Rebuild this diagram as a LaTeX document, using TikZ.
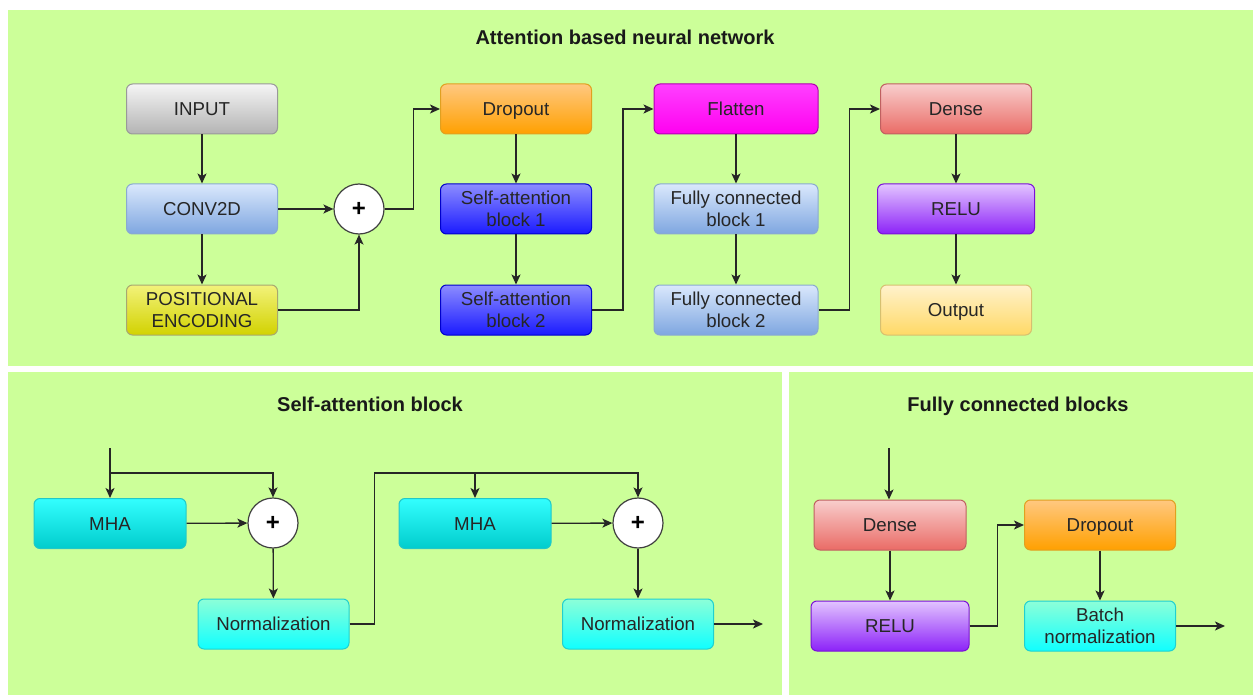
\documentclass[tikz,border=0pt]{standalone}
\usepackage{fontspec}
\setmainfont{Liberation Sans}
\usetikzlibrary{arrows.meta}

% panel and box colours
\definecolor{panelgreen}{HTML}{CCFF99}
\definecolor{inputtop}{HTML}{F5F5F5}\definecolor{inputbot}{HTML}{B3B3B3}\definecolor{inputline}{HTML}{999999}
\definecolor{convtop}{HTML}{DAE8FC}\definecolor{convbot}{HTML}{7EA6E0}\definecolor{convline}{HTML}{8AAAD0}
\definecolor{postop}{HTML}{F2F27A}\definecolor{posbot}{HTML}{D2D200}\definecolor{posline}{HTML}{A8A870}
\definecolor{droptop}{HTML}{FFC880}\definecolor{dropbot}{HTML}{FFA000}\definecolor{dropline}{HTML}{E0A020}
\definecolor{satop}{HTML}{8C8CFF}\definecolor{sabot}{HTML}{1A1AFF}\definecolor{saline}{HTML}{0000CC}
\definecolor{flattop}{HTML}{FF40FF}\definecolor{flatbot}{HTML}{FF00F0}\definecolor{flatline}{HTML}{B000B0}
\definecolor{densetop}{HTML}{F8CECC}\definecolor{densebot}{HTML}{EA6B66}\definecolor{denseline}{HTML}{C06060}
\definecolor{relutop}{HTML}{E2C4FF}\definecolor{relubot}{HTML}{8C22F8}\definecolor{reluline}{HTML}{7A10D8}
\definecolor{outtop}{HTML}{FFF2CC}\definecolor{outbot}{HTML}{FFD966}\definecolor{outline}{HTML}{D6C070}
\definecolor{mhatop}{HTML}{33FFFF}\definecolor{mhabot}{HTML}{00CCCC}\definecolor{mhaline}{HTML}{20C8C8}
\definecolor{normtop}{HTML}{8CFFD8}\definecolor{normbot}{HTML}{10FFFF}\definecolor{normline}{HTML}{20D0D0}

% two-line box label
\newcommand{\twoline}[2]{\raisebox{-2pt}[\height][\depth]{\begin{tabular}{@{}c@{}}#1\\#2\end{tabular}}}

\tikzset{
  box/.style={rounded corners=6pt, minimum width=151pt, minimum height=50pt, align=center,
    inner sep=2pt, line width=1pt, text=black!85, font=\fontsize{18.7}{22}\selectfont,
    execute at begin node=\rule{0pt}{18pt},
    execute at end node=\rule[-4.6pt]{0pt}{4.6pt}},
  inputbox/.style={box, draw=inputline, top color=inputtop, bottom color=inputbot},
  convbox/.style={box, draw=convline, top color=convtop, bottom color=convbot},
  posbox/.style={box, draw=posline, top color=postop, bottom color=posbot},
  dropbox/.style={box, draw=dropline, top color=droptop, bottom color=dropbot},
  sabox/.style={box, draw=saline, top color=satop, bottom color=sabot},
  flatbox/.style={box, draw=flatline, top color=flattop, bottom color=flatbot, minimum width=164pt},
  fcbox/.style={box, draw=convline, top color=convtop, bottom color=convbot, minimum width=164pt},
  densebox/.style={box, draw=denseline, top color=densetop, bottom color=densebot},
  relubox/.style={box, draw=reluline, top color=relutop, bottom color=relubot, minimum width=157pt},
  outbox/.style={box, draw=outline, top color=outtop, bottom color=outbot},
  mhabox/.style={box, draw=mhaline, top color=mhatop, bottom color=mhabot, minimum width=152pt},
  normbox/.style={box, draw=normline, top color=normtop, bottom color=normbot},
  sum/.style={circle, draw=black!75, fill=white, minimum size=50pt, inner sep=0pt, line width=1.2pt,
    font=\fontsize{24}{24}\selectfont\bfseries},
  arr/.style={-{Stealth[length=10pt,width=9pt,inset=2.5pt]}, line width=1.3pt, draw=black!85},
  panel/.style={fill=panelgreen, draw=none},
  heading/.style={font=\fontsize{20}{24}\selectfont\bfseries, text=black!90,
    text height=14.6pt, text depth=0pt},
}

\begin{document}
\begin{tikzpicture}[x=1pt,y=-1pt]
\useasboundingbox (0,0) rectangle (1253,695);

% panels
\fill[white] (0,0) rectangle (1253,695);
\path[panel] (8,10) rectangle (1253,366);
\path[panel] (8,372) rectangle (782,695);
\path[panel] (789,372) rectangle (1253,695);

%% attention based network
\node[heading] (title1) at (625,37) {Attention based neural network};

\node[inputbox] (inp) at (202,109) {INPUT};
\node[convbox] (conv) at (202,209) {CONV2D};
\node[posbox] (pos) at (202,310) {\twoline{POSITIONAL}{ENCODING}};
\node[sum] (add) at (359,209) {+};

\node[dropbox] (drop) at (516,109) {Dropout};
\node[sabox] (sa1) at (516,209) {\twoline{Self-attention}{block 1}};
\node[sabox] (sa2) at (516,310) {\twoline{Self-attention}{block 2}};

\node[flatbox] (flat) at (736,109) {Flatten};
\node[fcbox] (fc1) at (736,209) {\twoline{Fully connected}{block 1}};
\node[fcbox] (fc2) at (736,310) {\twoline{Fully connected}{block 2}};

\node[densebox] (dense) at (956,109) {Dense};
\node[relubox] (relu) at (956,209) {RELU};
\node[outbox] (out) at (956,310) {Output};

\draw[arr] (inp) -- (conv);
\draw[arr] (conv) -- (pos);
\draw[arr] (conv) -- (add);
\draw[arr] (pos) -| (add);
\draw[arr] (add.east) -- ++(29,0) |- (drop.west);
\draw[arr] (drop) -- (sa1);
\draw[arr] (sa1) -- (sa2);
\draw[arr] (sa2.east) -- ++(31,0) |- (flat.west);
\draw[arr] (flat) -- (fc1);
\draw[arr] (fc1) -- (fc2);
\draw[arr] (fc2.east) -- ++(31,0) |- (dense.west);
\draw[arr] (dense) -- (relu);
\draw[arr] (relu) -- (out);

%% self-attention block
\node[heading] (title2) at (370,404) {Self-attention block};

\coordinate (in1) at (110,448);
\coordinate (split1) at (110,473);
\coordinate (split2) at (475,473);
\coordinate (end1) at (763,624);

\node[mhabox] (mha1) at (110,523.5) {MHA};
\node[sum] (add1) at (273,523) {+};
\node[normbox] (norm1) at (273.5,624) {Normalization};
\node[mhabox] (mha2) at (475,523.5) {MHA};
\node[sum] (add2) at (638,523) {+};
\node[normbox] (norm2) at (638,624) {Normalization};

\draw[arr] (in1) -- (mha1);
\draw[arr] (split1) -| (add1);
\draw[arr] (mha1) -- (add1);
\draw[arr] (add1) -- (norm1);
\draw[arr] (norm1.east) -- ++(25,0) |- (split2) -| (add2);
\draw[arr] (split2) -- (mha2);
\draw[arr] (mha2) -- (add2);
\draw[arr] (add2) -- (norm2);
\draw[arr] (norm2) -- (end1);

%% fully connected blocks
\node[heading] (title3) at (1018,404) {Fully connected blocks};

\coordinate (in2) at (889,448);
\coordinate (end2) at (1225,626);

\node[densebox, minimum width=152pt] (dense2) at (890,525) {Dense};
\node[relubox, minimum width=158pt] (relu2) at (890,626) {RELU};
\node[dropbox] (drop2) at (1100,525) {Dropout};
\node[normbox] (bn) at (1100,626) {\twoline{Batch}{normalization}};

\draw[arr] (in2) -- (in2 |- dense2.north);
\draw[arr] (dense2) -- (relu2);
\draw[arr] (relu2.east) -- ++(28,0) |- (drop2.west);
\draw[arr] (drop2) -- (bn);
\draw[arr] (bn) -- (end2);

\end{tikzpicture}
\end{document}
